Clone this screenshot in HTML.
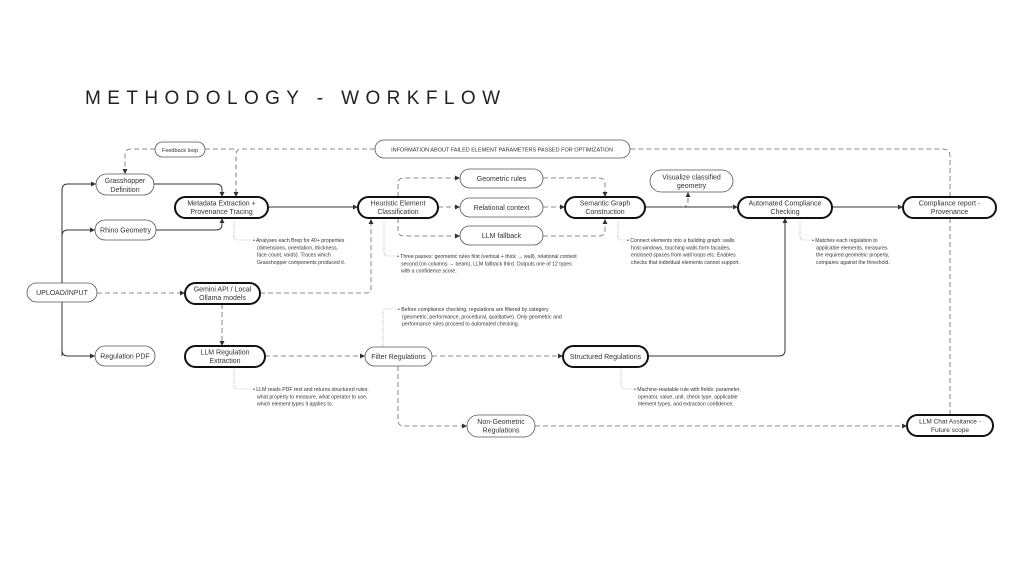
<!DOCTYPE html>
<html><head><meta charset="utf-8"><style>
html,body{margin:0;padding:0;background:#fff}
svg{display:block}
text{font-family:"Liberation Sans",sans-serif;fill:#333}
.n{font-size:7px;text-anchor:middle}
.s{font-size:5.2px}
.t{fill:none;stroke:#555;stroke-width:0.8}
.k{fill:#fff;stroke:#111;stroke-width:2}
.b{fill:#fff;stroke:#555;stroke-width:0.8}
.d{fill:none;stroke:#666;stroke-width:0.8;stroke-dasharray:5 3}
.l{fill:none;stroke:#333;stroke-width:1}
.o{fill:none;stroke:#999;stroke-width:0.6;stroke-dasharray:1 1}
</style></head><body>
<svg width="1024" height="576" viewBox="0 0 1024 576" xmlns="http://www.w3.org/2000/svg">
<defs><marker id="a" markerWidth="6" markerHeight="6" refX="5" refY="3" orient="auto" markerUnits="userSpaceOnUse"><path d="M0,0.5 L5,3 L0,5.5z" fill="#333"/></marker></defs>
<text x="85" y="104" font-size="19" textLength="415" lengthAdjust="spacing" style="fill:#222">METHODOLOGY - WORKFLOW</text>

<!-- connectors -->
<path class="l" d="M62,356 V190 Q62,184 68,184 H96" marker-end="url(#a)"/>
<path class="l" d="M62,236 Q62,230 68,230 H95" marker-end="url(#a)"/>
<path class="l" d="M62,300 V350 Q62,356 68,356 H95" marker-end="url(#a)"/>
<path class="d" d="M97,293 H185" marker-end="url(#a)"/>
<path class="d" d="M260,293 H366 Q371,293 371,288 V219" marker-end="url(#a)"/>
<path class="d" d="M222,304 V346" marker-end="url(#a)"/>
<path class="l" d="M154,184 H216 Q222,184 222,190 V197" marker-end="url(#a)"/>
<path class="l" d="M156,230 H216 Q222,230 222,224 V218" marker-end="url(#a)"/>
<path class="l" d="M268,207 H358" marker-end="url(#a)"/>
<path class="d" d="M398,197 V184 Q398,178 404,178 H460" marker-end="url(#a)"/>
<path class="d" d="M438,207 H460" marker-end="url(#a)"/>
<path class="d" d="M398,218 V230 Q398,236 404,236 H460" marker-end="url(#a)"/>
<path class="d" d="M543,178 H599 Q605,178 605,184 V197" marker-end="url(#a)"/>
<path class="d" d="M543,207 H565" marker-end="url(#a)"/>
<path class="d" d="M543,236 H599 Q605,236 605,230 V219" marker-end="url(#a)"/>
<path class="l" d="M645,207 H738" marker-end="url(#a)"/>
<path class="d" d="M682,207 Q688,207 688,201 V192" marker-end="url(#a)"/>
<path class="l" d="M832,207 H903" marker-end="url(#a)"/>
<path class="l" d="M648,356 H779 Q785,356 785,350 V218" marker-end="url(#a)"/>
<path class="d" d="M265,356 H365" marker-end="url(#a)"/>
<path class="d" d="M432,356 H563" marker-end="url(#a)"/>
<path class="d" d="M398,366 V420 Q398,426 404,426 H467" marker-end="url(#a)"/>
<path class="d" d="M535,426 H907" marker-end="url(#a)"/>
<path class="d" d="M950,197 V156 Q950,149 943,149 H630"/>
<path class="d" d="M950,218 V415"/>
<path class="d" d="M375,149 H242 Q236,149 236,155 V197" marker-end="url(#a)"/>
<path class="d" d="M205,149 H236"/>
<path class="d" d="M155,149 H131 Q125,149 125,155 V174" marker-end="url(#a)"/>

<!-- note leaders -->
<path class="o" d="M234,218 V236 Q234,240 238,240 H252"/>
<path class="o" d="M384,218 V252 Q384,256 388,256 H396"/>
<path class="o" d="M618,218 V236 Q618,240 622,240 H626"/>
<path class="o" d="M800,218 V236 Q800,240 804,240 H811"/>
<path class="o" d="M383,347 V313 Q383,309 387,309 H398"/>
<path class="o" d="M234,367 V385 Q234,389 238,389 H252"/>
<path class="o" d="M621,367 V385 Q621,389 625,389 H633"/>

<!-- nodes -->
<rect class="b" x="155" y="142" width="50" height="15" rx="7.5"/><text class="n" x="180" y="152" style="font-size:5.5px">Feedback loop</text>
<rect class="b" x="375" y="140" width="255" height="18" rx="9"/><text class="n" x="502" y="151.5" style="font-size:5.5px">INFORMATION ABOUT FAILED ELEMENT PARAMETERS PASSED FOR OPTIMIZATION</text>
<rect class="b" x="96" y="174" width="58" height="21" rx="10.5"/><text class="n" x="125" y="183">Grasshopper</text><text class="n" x="125" y="192">Definition</text>
<rect class="b" x="95" y="220" width="61" height="20" rx="10"/><text class="n" x="125.5" y="232.5">Rhino Geometry</text>
<rect class="k" x="175" y="197" width="93" height="21" rx="10.5"/><text class="n" x="221.5" y="205.5">Metadata Extraction +</text><text class="n" x="221.5" y="214">Provenance Tracing</text>
<rect class="k" x="358" y="197" width="80" height="21" rx="10.5"/><text class="n" x="398" y="205.5">Heuristic Element</text><text class="n" x="398" y="214">Classification</text>
<rect class="b" x="460" y="169" width="83" height="19" rx="9.5"/><text class="n" x="501.5" y="181">Geometric rules</text>
<rect class="b" x="460" y="198" width="83" height="19" rx="9.5"/><text class="n" x="501.5" y="210">Relational context</text>
<rect class="b" x="460" y="226" width="83" height="19" rx="9.5"/><text class="n" x="501.5" y="238">LLM fallback</text>
<rect class="k" x="565" y="197" width="80" height="21" rx="10.5"/><text class="n" x="605" y="205.5">Semantic Graph</text><text class="n" x="605" y="214">Construction</text>
<rect class="b" x="650" y="170" width="83" height="22" rx="11"/><text class="n" x="691.5" y="179.5">Visualize classified</text><text class="n" x="691.5" y="188">geometry</text>
<rect class="k" x="738" y="197" width="94" height="21" rx="10.5"/><text class="n" x="785" y="205.5">Automated Compliance</text><text class="n" x="785" y="214">Checking</text>
<rect class="k" x="903" y="197" width="93" height="21" rx="10.5"/><text class="n" x="949.5" y="205.5">Compliance report -</text><text class="n" x="949.5" y="214">Provenance</text>
<rect class="b" x="27" y="283" width="70" height="19" rx="9.5"/><text class="n" x="62" y="295">UPLOAD/INPUT</text>
<rect class="k" x="185" y="283" width="75" height="21" rx="10.5"/><text class="n" x="222.5" y="291.5">Gemini API / Local</text><text class="n" x="222.5" y="300">Ollama models</text>
<rect class="b" x="95" y="346" width="60" height="20" rx="10"/><text class="n" x="125" y="358.5">Regulation PDF</text>
<rect class="k" x="185" y="346" width="80" height="21" rx="10.5"/><text class="n" x="225" y="354.5">LLM Regulation</text><text class="n" x="225" y="363">Extraction</text>
<rect class="b" x="365" y="347" width="67" height="19" rx="9.5"/><text class="n" x="398.5" y="359">Filter Regulations</text>
<rect class="k" x="563" y="346" width="85" height="21" rx="10.5"/><text class="n" x="605.5" y="359">Structured Regulations</text>
<rect class="b" x="467" y="415" width="68" height="22" rx="11"/><text class="n" x="501" y="424">Non-Geometric</text><text class="n" x="501" y="432.5">Regulations</text>
<rect class="k" x="907" y="415" width="86" height="21" rx="10.5"/><text class="n" x="950" y="423.5" style="font-size:6.5px">LLM Chat Assitance -</text><text class="n" x="950" y="432" style="font-size:6.5px">Future scope</text>

<!-- notes -->
<g class="s">
<text x="253" y="242">• Analyses each Brep for 40+ properties</text>
<text x="257" y="249.3">(dimensions, orientation, thickness,</text>
<text x="257" y="256.6">face count, voids). Traces which</text>
<text x="257" y="263.9">Grasshopper components produced it.</text>
<text x="397" y="258">• Three passes: geometric rules first (vertical + thick → wall), relational context</text>
<text x="401" y="265.3">second (on columns → beam), LLM fallback third. Outputs one of 12 types</text>
<text x="401" y="272.6">with a confidence score.</text>
<text x="627" y="242">• Connect elements into a building graph: walls</text>
<text x="631" y="249.3">host windows, touching walls form facades,</text>
<text x="631" y="256.6">enclosed spaces from wall loops etc. Enables</text>
<text x="631" y="263.9">checks that individual elements cannot support.</text>
<text x="812" y="242">• Matches each regulation to</text>
<text x="816" y="249.3">applicable elements, measures</text>
<text x="816" y="256.6">the required geometric property,</text>
<text x="816" y="263.9">compares against the threshold.</text>
<text x="398" y="311">• Before compliance checking, regulations are filtered by category</text>
<text x="402" y="318.3">(geometric, performance, procedural, qualitative). Only geometric and</text>
<text x="402" y="325.6">performance rules proceed to automated checking.</text>
<text x="253" y="391">• LLM reads PDF text and returns structured rules:</text>
<text x="257" y="398.3">what property to measure, what operator to use,</text>
<text x="257" y="405.6">which element types it applies to.</text>
<text x="634" y="391">• Machine-readable rule with fields: parameter,</text>
<text x="638" y="398.3">operator, value, unit, check type, applicable</text>
<text x="638" y="405.6">element types, and extraction confidence.</text>
</g>
</svg>
</body></html>
